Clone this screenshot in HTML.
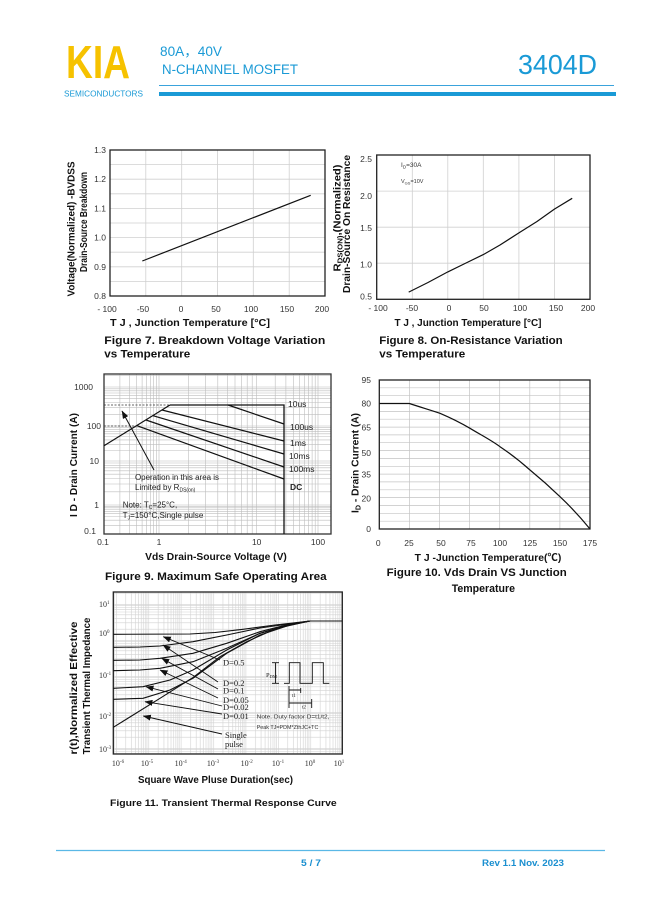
<!DOCTYPE html>
<html><head><meta charset="utf-8"><style>html,body{margin:0;padding:0;background:#fff;}svg{display:block;}</style></head>
<body>
<svg width="649" height="917" viewBox="0 0 649 917" xmlns="http://www.w3.org/2000/svg" font-family="Liberation Sans, Arial, sans-serif">
<defs>
<marker id="ah" markerWidth="8" markerHeight="6" refX="7.5" refY="3" orient="auto" markerUnits="userSpaceOnUse"><path d="M0,0L8,3L0,6z" fill="#111"/></marker>
<pattern id="g11v" patternUnits="userSpaceOnUse" x="116" y="0" width="32.4" height="917"><path d="M0.3,0V917M9.75,0V917M15.5,0V917M19.5,0V917M22.6,0V917M25.2,0V917M27.4,0V917M29.3,0V917M30.9,0V917" stroke="#d2d2d2" stroke-width="0.6"/></pattern>
<pattern id="g11h" patternUnits="userSpaceOnUse" x="0" y="604" width="649" height="36"><path d="M0,0.3H649M0,25.2H649M0,18.8H649M0,14.3H649M0,10.8H649M0,8H649M0,5.6H649M0,3.5H649M0,1.7H649" stroke="#d2d2d2" stroke-width="0.6"/></pattern>
</defs>
<rect width="649" height="917" fill="#fff"/>

<!-- Header -->
<text x="66" y="78" font-size="46" font-weight="bold" fill="#f6c200" textLength="64" lengthAdjust="spacingAndGlyphs">KIA</text>
<text x="64" y="96.5" font-size="8" fill="#1a9ad6" textLength="79" lengthAdjust="spacingAndGlyphs">SEMICONDUCTORS</text>
<text x="160" y="56" font-size="13.5" fill="#1a9ad6" textLength="62" lengthAdjust="spacingAndGlyphs" font-family="Liberation Sans, Noto Sans CJK SC, sans-serif">80A，40V</text>
<text x="162" y="74" font-size="13.5" fill="#1a9ad6" textLength="136" lengthAdjust="spacingAndGlyphs">N-CHANNEL MOSFET</text>
<text x="518" y="74" font-size="28" fill="#1a9ad6" textLength="79" lengthAdjust="spacingAndGlyphs">3404D</text>
<line x1="159" y1="85.5" x2="614" y2="85.5" stroke="#3aa3dc" stroke-width="1"/>
<rect x="159" y="92" width="457" height="4" fill="#1a9ad6"/>

<!-- Figure 7 -->
<rect x="110" y="150" width="215" height="146" fill="#fff"/>
<path d="M110,164.6H325M110,179.2H325M110,193.8H325M110,208.4H325M110,223H325M110,237.6H325M110,252.2H325M110,266.8H325M110,281.4H325M145.8,150V296M181.7,150V296M217.5,150V296M253.3,150V296M289.2,150V296" stroke="#d0d0d0" stroke-width="0.8" fill="none"/>
<rect x="110" y="150" width="215" height="146" fill="none" stroke="#222" stroke-width="1.3"/>
<line x1="142.3" y1="261" x2="310.7" y2="195.3" stroke="#111" stroke-width="1.2"/>
<g font-size="8.5" fill="#333" text-anchor="end">
<text x="106" y="153">1.3</text><text x="106" y="182.2">1.2</text><text x="106" y="211.4">1.1</text><text x="106" y="240.6">1.0</text><text x="106" y="269.8">0.9</text><text x="106" y="299">0.8</text>
</g>
<g font-size="8.5" fill="#333" text-anchor="middle">
<text x="107" y="312">- 100</text><text x="143" y="312">-50</text><text x="181" y="312">0</text><text x="216" y="312">50</text><text x="251" y="312">100</text><text x="287" y="312">150</text><text x="322" y="312">200</text>
</g>
<g font-size="10" font-weight="bold" fill="#111" text-anchor="middle">
<text transform="translate(71,229) rotate(-90)" x="0" y="3.5" textLength="135" lengthAdjust="spacingAndGlyphs">Voltage(Normalized) -BVDSS</text>
<text transform="translate(83.5,222) rotate(-90)" x="0" y="3.5" textLength="100" lengthAdjust="spacingAndGlyphs">Drain-Source Breakdown</text>
<text x="190" y="326" textLength="160" lengthAdjust="spacingAndGlyphs">T J , Junction Temperature [°C]</text>
</g>
<g font-size="11" font-weight="bold" fill="#111">
<text x="104.3" y="344" textLength="221" lengthAdjust="spacingAndGlyphs">Figure 7.    Breakdown Voltage Variation</text>
<text x="104.3" y="357.5" textLength="86" lengthAdjust="spacingAndGlyphs">vs Temperature</text>
</g>

<!-- Figure 8 -->
<rect x="376.7" y="155" width="213.3" height="144.3" fill="#fff"/>
<path d="M376.7,191.1H590M376.7,227.2H590M376.7,263.2H590M412.3,155V299.3M447.8,155V299.3M483.3,155V299.3M518.9,155V299.3M554.4,155V299.3" stroke="#d0d0d0" stroke-width="0.8" fill="none"/>
<rect x="376.7" y="155" width="213.3" height="144.3" fill="none" stroke="#222" stroke-width="1.3"/>
<path d="M408.7,292.1 L428,282.5 L447.8,271.9 L465,263.5 L483.3,254.6 L500,245 L518.9,232.9 L537,221.5 L554.4,209.1 L572.2,198.3" stroke="#111" stroke-width="1.2" fill="none" stroke-linejoin="round"/>
<text x="401" y="167" font-size="6.5" fill="#333">I<tspan font-size="4.5" dy="1.5">D</tspan><tspan dy="-1.5">=30A</tspan></text>
<text x="401" y="183" font-size="5.5" fill="#333">V<tspan font-size="4" dy="1.5">GS</tspan><tspan dy="-1.5">=10V</tspan></text>
<g font-size="8.5" fill="#333" text-anchor="end">
<text x="372" y="162">2.5</text><text x="372" y="199">2.0</text><text x="372" y="231">1.5</text><text x="372" y="267.5">1.0</text><text x="372" y="299.5">0.5</text>
</g>
<g font-size="8.5" fill="#333" text-anchor="middle">
<text x="378" y="311">- 100</text><text x="412" y="311">-50</text><text x="449" y="311">0</text><text x="484" y="311">50</text><text x="520" y="311">100</text><text x="556" y="311">150</text><text x="588" y="311">200</text>
</g>
<g font-size="10" font-weight="bold" fill="#111" text-anchor="middle">
<text transform="translate(337,218) rotate(-90)" x="0" y="3.5" textLength="107" lengthAdjust="spacingAndGlyphs">R<tspan font-size="7" dy="2">DS(ON)</tspan><tspan dy="-2">,(Normalized)</tspan></text>
<text transform="translate(346.5,224) rotate(-90)" x="0" y="3.5" textLength="138" lengthAdjust="spacingAndGlyphs">Drain-Source On Resistance</text>
<text x="468" y="326" textLength="147" lengthAdjust="spacingAndGlyphs">T J , Junction Temperature [°C]</text>
</g>
<g font-size="11" font-weight="bold" fill="#111">
<text x="379.3" y="344" textLength="183.4" lengthAdjust="spacingAndGlyphs">Figure 8. On-Resistance Variation</text>
<text x="379.3" y="357.5" textLength="86" lengthAdjust="spacingAndGlyphs">vs Temperature</text>
</g>

<!-- Figure 9 -->
<rect x="104" y="374" width="227" height="160" fill="#fff"/>
<path d="M119.9,374V534M129.7,374V534M136.7,374V534M142.1,374V534M146.6,374V534M150.3,374V534M153.6,374V534M156.4,374V534M159,374V534M188.4,374V534M205.6,374V534M217.8,374V534M227.3,374V534M235,374V534M241.6,374V534M247.2,374V534M252.2,374V534M256.7,374V534M275.2,374V534M285.9,374V534M293.6,374V534M299.5,374V534M304.4,374V534M308.5,374V534M312.1,374V534M315.2,374V534M318,374V534
M104,525.3H331M104,520.2H331M104,516.5H331M104,513.7H331M104,511.4H331M104,509.5H331M104,507.8H331M104,506.3H331M104,505H331M104,491.8H331M104,484H331M104,478.5H331M104,474.2H331M104,470.8H331M104,467.8H331M104,465.3H331M104,463H331M104,461H331M104,450.5H331M104,444.3H331M104,439.9H331M104,436.5H331M104,433.8H331M104,431.4H331M104,429.4H331M104,427.6H331M104,426H331M104,414.3H331M104,407.4H331M104,402.5H331M104,398.7H331M104,395.7H331M104,393H331M104,390.8H331M104,388.8H331M104,387H331M104,375.3H331" stroke="#bdbdbd" stroke-width="0.6" fill="none"/>
<rect x="104" y="374" width="227" height="160" fill="none" stroke="#333" stroke-width="1.3"/>
<path d="M104,405H170M104,426H139" stroke="#333" stroke-width="0.8" stroke-dasharray="2,1.5" fill="none"/>
<path d="M170,405H284V534" stroke="#111" stroke-width="1.3" fill="none"/>
<path d="M104,445.8L170,405" stroke="#111" stroke-width="1.2" fill="none"/>
<path d="M228,405L284,424M162,410L284,441M153,415.7L284,454M146,420L284,467M137,425.7L284,479" stroke="#111" stroke-width="1.2" fill="none"/>
<line x1="154" y1="470" x2="122" y2="411" stroke="#111" stroke-width="1" marker-end="url(#ah)"/>
<g font-size="8.5" fill="#222">
<text x="288" y="407">10us</text><text x="290" y="430">100us</text><text x="290" y="446">1ms</text><text x="289" y="459">10ms</text><text x="289" y="472">100ms</text>
<text x="290" y="490" font-weight="bold">DC</text>
</g>
<g font-size="8" fill="#222">
<text x="135" y="480" textLength="84" lengthAdjust="spacingAndGlyphs">Operation in this area is</text>
<text x="135" y="490">Limited by R<tspan font-size="5" dy="1.5">DS(on)</tspan></text>
<text x="122.7" y="507.5">Note: T<tspan font-size="5" dy="1.5">C</tspan><tspan dy="-1.5">=25°C,</tspan></text>
<text x="122.7" y="518" textLength="80.6" lengthAdjust="spacingAndGlyphs">T<tspan font-size="5" dy="1.5">J</tspan><tspan dy="-1.5">=150°C,Single pulse</tspan></text>
</g>
<g font-size="8.5" fill="#333" text-anchor="end">
<text x="93" y="390">1000</text><text x="101" y="429">100</text><text x="99" y="464">10</text><text x="99" y="508">1</text><text x="96" y="534">0.1</text>
</g>
<g font-size="8.5" fill="#333" text-anchor="middle">
<text x="103" y="545">0.1</text><text x="159" y="545">1</text><text x="256.7" y="545">10</text><text x="318" y="545">100</text>
</g>
<g font-size="10" font-weight="bold" fill="#111" text-anchor="middle">
<text transform="translate(73.3,465) rotate(-90)" x="0" y="3.5" textLength="104" lengthAdjust="spacingAndGlyphs">I D - Drain Current (A)</text>
<text x="216" y="560" textLength="141.7" lengthAdjust="spacingAndGlyphs">Vds Drain-Source Voltage (V)</text>
</g>
<text x="105" y="580" font-size="11" font-weight="bold" fill="#111" textLength="221.7" lengthAdjust="spacingAndGlyphs">Figure 9. Maximum Safe Operating Area</text>

<!-- Figure 10 -->
<rect x="379.3" y="380" width="210.7" height="149" fill="#fff"/>
<path d="M379.3,387.8H590M379.3,395.7H590M379.3,403.5H590M379.3,411.4H590M379.3,419.2H590M379.3,427.1H590M379.3,434.9H590M379.3,442.7H590M379.3,450.6H590M379.3,458.4H590M379.3,466.3H590M379.3,474.1H590M379.3,481.9H590M379.3,489.8H590M379.3,497.6H590M379.3,505.5H590M379.3,513.3H590M379.3,521.2H590M409.4,380V529M439.5,380V529M469.6,380V529M499.7,380V529M529.8,380V529M559.9,380V529" stroke="#c4c4c4" stroke-width="0.7" fill="none"/>
<rect x="379.3" y="380" width="210.7" height="149" fill="none" stroke="#222" stroke-width="1.3"/>
<path d="M379.3,403.5H409.4 C420,407 430,410 440,413.3 C451,418 461,423 470,428.3 C481,435 491,440 500,446.7 C511,454 521,462 530,470 C541,479 551,488 560,496.7 C571,507 581,518 590,529" stroke="#111" stroke-width="1.2" fill="none"/>
<g font-size="8.5" fill="#333" text-anchor="end">
<text x="371" y="383">95</text><text x="371" y="406.5">80</text><text x="371" y="430.5">65</text><text x="371" y="456">50</text><text x="371" y="477.5">35</text><text x="371" y="501.5">20</text><text x="371" y="532">0</text>
</g>
<g font-size="8.5" fill="#333" text-anchor="middle">
<text x="378.3" y="546">0</text><text x="409" y="546">25</text><text x="441" y="546">50</text><text x="471" y="546">75</text><text x="500" y="546">100</text><text x="530" y="546">125</text><text x="560" y="546">150</text><text x="590" y="546">175</text>
</g>
<g font-size="10" font-weight="bold" fill="#111" text-anchor="middle">
<text transform="translate(355,463) rotate(-90)" x="0" y="3.5" textLength="100" lengthAdjust="spacingAndGlyphs">I<tspan font-size="7" dy="2">D</tspan><tspan dy="-2"> - Drain Current (A)</tspan></text>
<text x="488" y="561" textLength="146.7" lengthAdjust="spacingAndGlyphs" font-family="Liberation Sans, Noto Sans CJK SC, sans-serif">T J -Junction Temperature(℃)</text>
</g>
<g font-size="11" font-weight="bold" fill="#111">
<text x="386.7" y="576" textLength="180" lengthAdjust="spacingAndGlyphs">Figure 10. Vds Drain VS Junction</text>
<text x="451.7" y="592" textLength="63.3" lengthAdjust="spacingAndGlyphs">Temperature</text>
</g>

<!-- Figure 11 -->
<rect x="113.3" y="592" width="229" height="162" fill="#fff"/>
<rect x="113.3" y="592" width="229" height="162" fill="url(#g11v)"/>
<rect x="113.3" y="592" width="229" height="162" fill="url(#g11h)"/>
<rect x="113.3" y="592" width="229" height="162" fill="none" stroke="#222" stroke-width="1.3"/>
<g stroke="#111" stroke-width="1.1" fill="none" stroke-linejoin="round">
<polyline points="113.3,727.3 160,698.3 193.3,677.3 220,656.7 246.7,641.7 276.7,628.3 310,621 342.3,621"/>
<polyline points="113.3,634.3 190,634 215,632.5 243,629.3 275,625 310,621"/>
<polyline points="113.3,647.3 140,647 160,646 193,641.7 226.7,635 260,628 310,621"/>
<polyline points="113.3,660.3 140,660 160,658.3 193,653.3 226.7,643.3 260,631.7 290,624 310,621"/>
<polyline points="113.3,670.7 140,670 160,668.3 193,661.7 226.7,648.3 260,633.3 290,624.5 310,621"/>
<polyline points="113.3,688.3 143,686.7 170,680 193,670 226.7,650 260,633.3 290,624.5 310,621"/>
<polyline points="113.3,699.3 143,698.3 170,690 193,678.3 226.7,653.3 260,635 290,625 310,621"/>
</g>
<g stroke="#111" stroke-width="0.9">
<line x1="220" y1="660" x2="163.3" y2="636.7" marker-end="url(#ah)"/>
<line x1="218" y1="682" x2="163" y2="645" marker-end="url(#ah)"/>
<line x1="218" y1="689" x2="161.7" y2="658.3" marker-end="url(#ah)"/>
<line x1="218" y1="698" x2="160" y2="670" marker-end="url(#ah)"/>
<line x1="222" y1="706" x2="146" y2="686.7" marker-end="url(#ah)"/>
<line x1="222" y1="714" x2="145" y2="701.7" marker-end="url(#ah)"/>
<line x1="222" y1="734" x2="143.3" y2="716" marker-end="url(#ah)"/>
</g>
<g font-size="8.5" fill="#222" font-family="Liberation Serif, serif">
<text x="223" y="665.5">D=0.5</text><text x="223" y="686">D=0.2</text><text x="223" y="693.5">D=0.1</text><text x="223" y="703">D=0.05</text><text x="223" y="710">D=0.02</text><text x="223" y="719">D=0.01</text>
<text x="225" y="738">Single</text><text x="225" y="747">pulse</text>
</g>
<!-- pulse diagram -->
<text x="266" y="677" font-size="6.5" fill="#222" font-family="Liberation Serif, serif">P<tspan font-size="4.5" dy="1">DM</tspan></text>
<g stroke="#111" stroke-width="0.9" fill="none">
<path d="M272,662.7H279M272,683.3H279M275.5,663V683"/>
<path d="M284,683.3H289.3V662.7H300V683.3H312.3V662.7H323.3V683.3H329.3"/>
<path d="M289,686V708M300.7,688V693M311.7,699V708"/>
<path d="M289.5,690H300.3M289.5,703H311.3"/>
</g>
<text x="292" y="697" font-size="5" fill="#222" font-family="Liberation Serif, serif">t1</text>
<text x="302" y="708.5" font-size="5" fill="#222" font-family="Liberation Serif, serif">t2</text>
<text x="256.7" y="718.5" font-size="5.5" fill="#333" textLength="72.7" lengthAdjust="spacingAndGlyphs">Note. Duty factor D=t1/t2,</text>
<text x="256.7" y="729" font-size="5.5" fill="#333" textLength="61.7" lengthAdjust="spacingAndGlyphs">Peak TJ=PDM*ZthJC+TC</text>
<g font-size="8" fill="#333" font-family="Liberation Serif, serif">
<text x="99" y="607">10<tspan font-size="5" dy="-3">1</tspan></text>
<text x="99" y="636">10<tspan font-size="5" dy="-3">0</tspan></text>
<text x="99" y="678">10<tspan font-size="5" dy="-3">-1</tspan></text>
<text x="99" y="719">10<tspan font-size="5" dy="-3">-2</tspan></text>
<text x="99" y="752">10<tspan font-size="5" dy="-3">-3</tspan></text>
</g>
<g font-size="8" fill="#333" font-family="Liberation Serif, serif" text-anchor="middle">
<text x="118" y="766">10<tspan font-size="5" dy="-3">-6</tspan></text>
<text x="147" y="766">10<tspan font-size="5" dy="-3">-5</tspan></text>
<text x="180.7" y="766">10<tspan font-size="5" dy="-3">-4</tspan></text>
<text x="213" y="766">10<tspan font-size="5" dy="-3">-3</tspan></text>
<text x="246.7" y="766">10<tspan font-size="5" dy="-3">-2</tspan></text>
<text x="278" y="766">10<tspan font-size="5" dy="-3">-1</tspan></text>
<text x="310" y="766">10<tspan font-size="5" dy="-3">0</tspan></text>
<text x="339" y="766">10<tspan font-size="5" dy="-3">1</tspan></text>
</g>
<g font-size="10" font-weight="bold" fill="#111" text-anchor="middle">
<text transform="translate(73.3,688) rotate(-90)" x="0" y="3.5" textLength="133" lengthAdjust="spacingAndGlyphs">r(t),Normalized Effective</text>
<text transform="translate(86.7,686) rotate(-90)" x="0" y="3.5" textLength="136.7" lengthAdjust="spacingAndGlyphs">Transient Thermal Impedance</text>
<text x="215.5" y="783" textLength="155" lengthAdjust="spacingAndGlyphs">Square Wave Pluse Duration(sec)</text>
</g>
<text x="110" y="806" font-size="9.5" font-weight="bold" fill="#111" textLength="226.7" lengthAdjust="spacingAndGlyphs">Figure 11. Transient Thermal Response Curve</text>

<!-- Footer -->
<line x1="56" y1="850.5" x2="605" y2="850.5" stroke="#5ab8e6" stroke-width="1.2"/>
<text x="301" y="866" font-size="9" font-weight="bold" fill="#1a8fd0" textLength="20" lengthAdjust="spacingAndGlyphs">5 / 7</text>
<text x="482" y="866" font-size="9" font-weight="bold" fill="#1a8fd0" textLength="82" lengthAdjust="spacingAndGlyphs">Rev 1.1 Nov. 2023</text>
</svg>
</body></html>
